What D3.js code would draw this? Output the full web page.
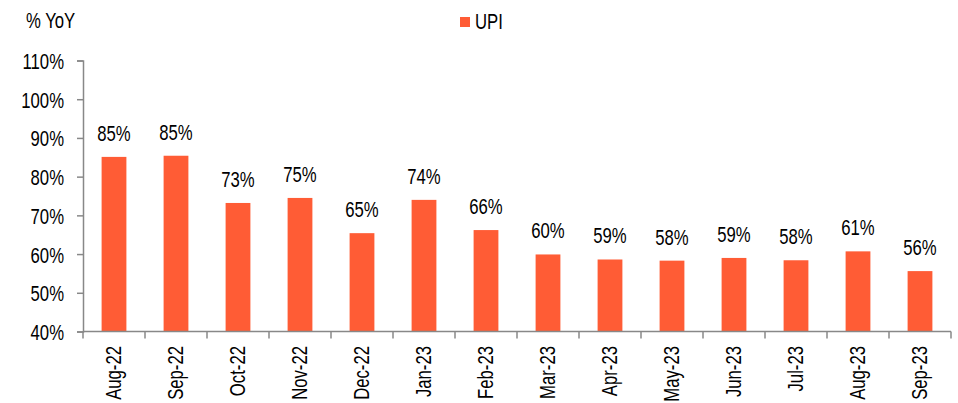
<!DOCTYPE html>
<html>
<head>
<meta charset="utf-8">
<script src="https://cdn.jsdelivr.net/npm/d3@7"></script>
<style>
  body { margin: 0; background: #fff; }
  svg text { font-family: "Liberation Sans", Arial, sans-serif; fill: #000; font-size: 22px; }
</style>
</head>
<body>
<script>
var width = 958;
var height = 403;

// chart data
var months = ["Aug-22","Sep-22","Oct-22","Nov-22","Dec-22","Jan-23","Feb-23","Mar-23","Apr-23","May-23","Jun-23","Jul-23","Aug-23","Sep-23"];
var upiYoY = [85.1, 85.4, 73.2, 74.5, 65.4, 74.0, 66.2, 59.9, 58.6, 58.3, 59.0, 58.4, 60.7, 55.6];
var yTicks = [40, 50, 60, 70, 80, 90, 100, 110];

var barColor = "#ff5c35";
var squeeze = 0.76; // narrow look of the original font

var svg = d3.select("body").append("svg")
  .attr("width", width)
  .attr("height", height);

var x = d3.scaleBand()
  .domain(months)
  .range([83, 951])
  .paddingInner(0.6)
  .paddingOuter(0.3);

var y = d3.scaleLinear()
  .domain([40, 110])
  .range([331.5, 60.5]);

function label(g, tx, ty, rot) {
  return g.append("text")
    .attr("transform", "translate(" + tx + "," + ty + ")" + (rot ? " rotate(" + rot + ")" : "") + " scale(" + squeeze + ",1)");
}

// bars
svg.selectAll("rect.bar")
  .data(months)
  .enter().append("rect")
  .attr("class", "bar")
  .attr("x", function(d) { return x(d); })
  .attr("width", x.bandwidth())
  .attr("y", function(d, i) { return y(upiYoY[i]); })
  .attr("height", function(d, i) { return y(40) - y(upiYoY[i]); })
  .attr("fill", barColor);

// value labels
months.forEach(function(d, i) {
  label(svg, x(d) + x.bandwidth() / 2, y(upiYoY[i]) - 16)
    .attr("text-anchor", "middle")
    .text(Math.round(upiYoY[i]) + "%");
});

// y axis
var yAxis = svg.append("g")
  .attr("transform", "translate(83,0)")
  .call(d3.axisLeft(y).tickValues(yTicks).tickSize(6).tickFormat(""));
yAxis.select(".domain").attr("stroke", "#888").attr("stroke-width", 1.5);
yAxis.selectAll(".tick line").attr("stroke", "#888").attr("stroke-width", 1.5);

yTicks.forEach(function(t) {
  label(svg, 64, y(t) + 8.5)
    .attr("text-anchor", "end")
    .text(t + "%");
});

// x axis with ticks between categories
var xAxis = svg.append("g")
  .attr("transform", "translate(0,331.5)");
xAxis.append("line")
  .attr("x1", 83).attr("x2", 951)
  .attr("stroke", "#888").attr("stroke-width", 1.5);
var edges = d3.range(months.length + 1).map(function(i) { return 83 + i * x.step(); });
xAxis.selectAll("line.tk")
  .data(edges)
  .enter().append("line")
  .attr("class", "tk")
  .attr("x1", function(d) { return d; })
  .attr("x2", function(d) { return d; })
  .attr("y1", 0).attr("y2", 7)
  .attr("stroke", "#888").attr("stroke-width", 1.5);
months.forEach(function(d) {
  label(svg, x(d) + x.bandwidth() / 2 + 7, 346, -90)
    .attr("text-anchor", "end")
    .text(d);
});

// unit label
label(svg, 26, 28).text("% YoY");

// legend
svg.append("rect")
  .attr("x", 460).attr("y", 17)
  .attr("width", 10).attr("height", 10)
  .attr("fill", barColor);
label(svg, 475, 29).text("UPI");
</script>
</body>
</html>
